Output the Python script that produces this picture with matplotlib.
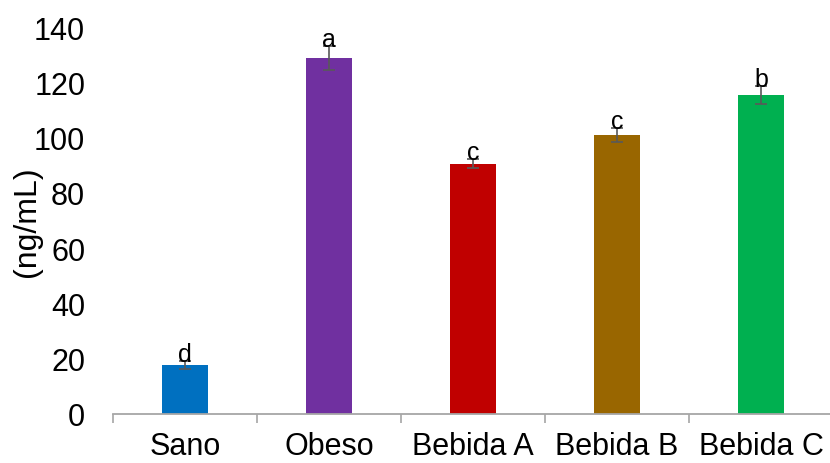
import matplotlib
matplotlib.use("Agg")
import matplotlib.pyplot as plt
import numpy as np

categories = ["Sano", "Obeso", "Bebida A", "Bebida B", "Bebida C"]
values = [17.7, 128.8, 90.6, 100.9, 115.4]
errors = [1.5, 4.2, 1.7, 2.5, 3.1]
letters = ["d", "a", "c", "c", "b"]
colors = ["#0070C0", "#7030A0", "#C00000", "#996600", "#00B050"]

plt.rcParams["font.family"] = ["Liberation Sans", "DejaVu Sans"]

fig = plt.figure(figsize=(8.3, 4.64), dpi=100)
ax = fig.add_axes([113 / 830, 49 / 464, 720 / 830, 387 / 464])

x = np.arange(len(categories))
ax.bar(x, values, width=0.32, color=colors, zorder=2)
ax.errorbar(x, values, yerr=errors, fmt="none", ecolor="#595959",
            elinewidth=1.2, capsize=4.5, capthick=1.2, zorder=3)

# significance letters sit on top of each error bar
for xi, v, e, lab in zip(x, values, errors, letters):
    ax.text(xi, v + e, lab, ha="center", va="baseline", fontsize=18)

ax.set_xlim(-0.5, len(categories) - 0.5)
ax.set_ylim(0, 140)
ax.set_yticks(range(0, 141, 20))
ax.set_xticks(x)
ax.set_xticklabels(categories)
ax.set_xticks(np.arange(-0.5, len(categories), 1.0), minor=True)

ax.tick_params(axis="x", which="major", length=0, pad=12, labelsize=22)
ax.tick_params(axis="x", which="minor", length=6.5, width=1.2,
               color="#A6A6A6", direction="out")
ax.tick_params(axis="y", length=0, pad=20, labelsize=22)

for side in ["top", "right", "left"]:
    ax.spines[side].set_visible(False)
ax.spines["bottom"].set_color("#A6A6A6")
ax.spines["bottom"].set_linewidth(1.3)

ax.set_ylabel("(ng/mL)", fontsize=23, labelpad=-6)

fig.savefig("out.png", dpi=100)
